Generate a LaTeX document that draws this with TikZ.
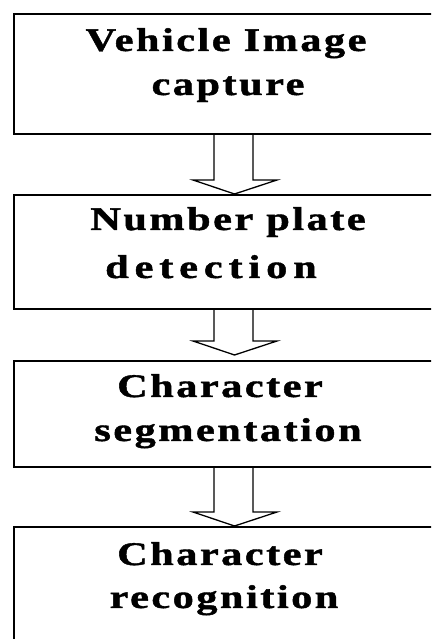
\documentclass[tikz,border=0pt]{standalone}
\usepackage{fontspec}
\usetikzlibrary{calc}
\newfontfamily\lblfont[LetterSpace=6, FakeBold=1.2]{Liberation Serif}
\newfontfamily\lblwidefont[LetterSpace=14, FakeBold=1.2]{Liberation Serif}
\tikzset{
  x=1pt, y=1pt,
  stagebox/.style={draw=black, line width=2.2pt, fill=white, rectangle, anchor=north west,
    minimum width=442pt, inner sep=0pt},
  lbl/.style={anchor=base, inner sep=0pt, font=\lblfont\bfseries\fontsize{33}{40}\selectfont,
    xscale=1.28, transform shape},
  blockarrow/.style={draw=black, line width=1.3pt, fill=white, line join=miter},
}
\newcommand{\flowarrow}[3]{% from, to, gap at tip
  \draw[blockarrow] let \p1=(#1.south west), \p2=(#2.north west) in
    (214,\y1) -- (214,\y2+#3+14) -- (193,\y2+#3+14) -- (234.5,\y2+#3) -- (277,\y2+#3+14)
    -- (253,\y2+#3+14) -- (253,\y1);
}
\begin{document}
\begin{tikzpicture}
\useasboundingbox (0,0) rectangle (431,639);
\clip (0,0) rectangle (431,639);
\fill[white] (0,0) rectangle (431,639);
\node[stagebox, minimum height=120pt] (b1) at (13,626) {};
\node[stagebox, minimum height=114pt] (b2) at (13,445) {};
\node[stagebox, minimum height=106pt] (b3) at (13,279) {};
\node[stagebox, minimum height=173pt] (b4) at (13,113) {};
\flowarrow{b1}{b2}{0}
\flowarrow{b2}{b3}{5}
\flowarrow{b3}{b4}{0}
\node[lbl] (t1a) at (226,588) {Vehicle Image};
\node[lbl] (t1b) at (228,544) {capture};
\node[lbl] (t2a) at (228,409) {Number plate};
\node[lbl, font=\lblwidefont\bfseries\fontsize{33}{40}\selectfont] (t2b) at (211,361) {detection};
\node[lbl] (t3a) at (220,242) {Character};
\node[lbl] (t3b) at (228,198) {segmentation};
\node[lbl] (t4a) at (220,74) {Character};
\node[lbl] (t4b) at (224,31) {recognition};
\end{tikzpicture}
\end{document}
